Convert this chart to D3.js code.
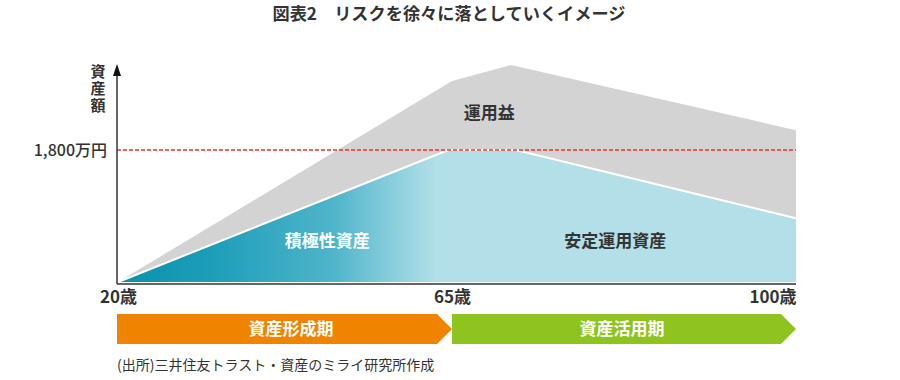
<!DOCTYPE html>
<html><head><meta charset="utf-8">
<script src="https://cdn.jsdelivr.net/npm/d3@7"></script>
<style>
html,body{margin:0;padding:0;background:#fff;}
svg{display:block;font-family:"Noto Sans CJK JP","Noto Sans",sans-serif;}
</style></head>
<body>
<svg id="c" width="900" height="380"></svg>
<script>
// ---- data ----
const title = "図表2　リスクを徐々に落としていくイメージ";
const yLabel = "資産額";
const refValue = 1800;
const refLabel = "1,800万円";
const tickAges = [20, 65, 100];
const tickLabels = ["20歳", "65歳", "100歳"];
// total assets (including investment gains), 万円
const totalAges = [20, 65, 71, 100];
const totalValues = [0, 2740, 2960, 2070];
// principal assets, 万円
const baseAges = [20, 64.5, 71.5, 100];
const baseValues = [0, 1800, 1800, 870];
const areaLabels = ["運用益", "積極性資産", "安定運用資産"];
const areaLabelAges = [68.8, 48.2, 81.6];
const areaLabelValues = [2310, 560, 560];
const phases = ["資産形成期", "資産活用期"];
const phaseStart = [20, 65];
const phaseEnd = [65, 100];
const source = "(出所)三井住友トラスト・資産のミライ研究所作成";

// ---- drawing ----
(function () {
const svg = d3.select("#c");
const x = d3.scaleLinear().domain([20, 65, 100]).range([118, 452, 796]);
const y = d3.scaleLinear().domain([0, 1800]).range([282, 150]);

svg.append("text").attr("x", 449).attr("y", 20).attr("text-anchor", "middle")
  .attr("font-size", 17.2).attr("font-weight", 700).attr("fill", "#333").text(title);

const defs = svg.append("defs");
const g = defs.append("linearGradient").attr("id", "grad")
  .attr("gradientUnits", "userSpaceOnUse")
  .attr("x1", x(20)).attr("x2", x(63)).attr("y1", 0).attr("y2", 0);
[[0, "#0891ae"], [0.3, "#1d9eb9"], [0.68, "#50b5ca"], [0.85, "#86cddc"], [1, "#b3dfe8"]]
  .forEach(([o, c]) => g.append("stop").attr("offset", o).attr("stop-color", c));

const totalPts = totalAges.map((a, i) => [a, totalValues[i]]);
const basePts = baseAges.map((a, i) => [a, baseValues[i]]);

const area = d3.area().x(d => x(d[0])).y0(y(0)).y1(d => y(d[1]));
svg.append("path").datum(totalPts).attr("d", area).attr("fill", "#d3d3d3");
svg.append("path").datum(basePts).attr("d", area).attr("fill", "url(#grad)");
svg.append("path").datum(basePts)
  .attr("d", d3.line().x(d => x(d[0])).y(d => y(d[1])))
  .attr("fill", "none").attr("stroke", "#fff").attr("stroke-width", 2);

// reference line
svg.append("line").attr("x1", 117).attr("x2", x(100)).attr("y1", y(refValue)).attr("y2", y(refValue))
  .attr("stroke", "#ee3324").attr("stroke-width", 1.5).attr("stroke-dasharray", "4,2");
svg.append("text").attr("x", 107).attr("y", y(refValue)).attr("dy", "0.35em")
  .attr("text-anchor", "end").attr("font-size", 16).attr("font-weight", 500).attr("fill", "#333").text(refLabel);

// area labels
areaLabels.forEach((t, i) => {
  svg.append("text").attr("x", x(areaLabelAges[i])).attr("y", y(areaLabelValues[i])).attr("dy", "0.35em")
    .attr("text-anchor", "middle").attr("font-size", 17).attr("font-weight", 700)
    .attr("fill", i === 1 ? "#fff" : "#333").text(t);
});

// x axis
const xAxis = d3.axisBottom(x).tickValues(tickAges).tickSize(0).tickPadding(7)
  .tickFormat((d, i) => tickLabels[i]);
const ax = svg.append("g").attr("transform", "translate(0,284)").call(xAxis);
ax.select(".domain").attr("d", `M117,0H${x(100)}`).attr("stroke", "#333").attr("stroke-width", 1.5);
ax.selectAll("text").attr("font-size", 17).attr("font-weight", 700).attr("fill", "#333")
  .attr("font-family", "'Noto Sans CJK JP',sans-serif");
ax.selectAll(".tick").filter(d => d === 100).select("text").attr("text-anchor", "end");

// y axis with arrow
svg.append("line").attr("x1", 117).attr("x2", 117).attr("y1", 284).attr("y2", 72)
  .attr("stroke", "#333").attr("stroke-width", 1.5);
svg.append("path").attr("d", "M117,64L121,76L113,76Z").attr("fill", "#111");
svg.append("text").attr("x", 98).attr("y", 64)
  .style("writing-mode", "vertical-rl").style("letter-spacing", "2px")
  .attr("font-size", 15).attr("font-weight", 700).attr("fill", "#333").text(yLabel);

// phase arrows
const phaseColors = ["#f08300", "#8fc31f"];
const bTop = 314, bBot = 344, bMid = (bTop + bBot) / 2, tip = 15;
const phaseLabelX = [291, 622];
[1, 0].forEach(i => {
  const x0 = x(phaseStart[i]) - (i === 0 ? 1 : 0), x1 = x(phaseEnd[i]);
  const d = `M${x0},${bTop}H${x1 - tip}L${x1},${bMid}L${x1 - tip},${bBot}H${x0}Z`;
  svg.append("path").attr("d", d).attr("fill", phaseColors[i]);
  svg.append("text").attr("x", phaseLabelX[i]).attr("y", bMid).attr("dy", "0.35em")
    .attr("text-anchor", "middle").attr("font-size", 17).attr("font-weight", 700)
    .attr("fill", "#fff").text(phases[i]);
});

svg.append("text").attr("x", 117).attr("y", 370).attr("font-size", 14).attr("fill", "#333").text(source);
})();
</script>
</body></html>
